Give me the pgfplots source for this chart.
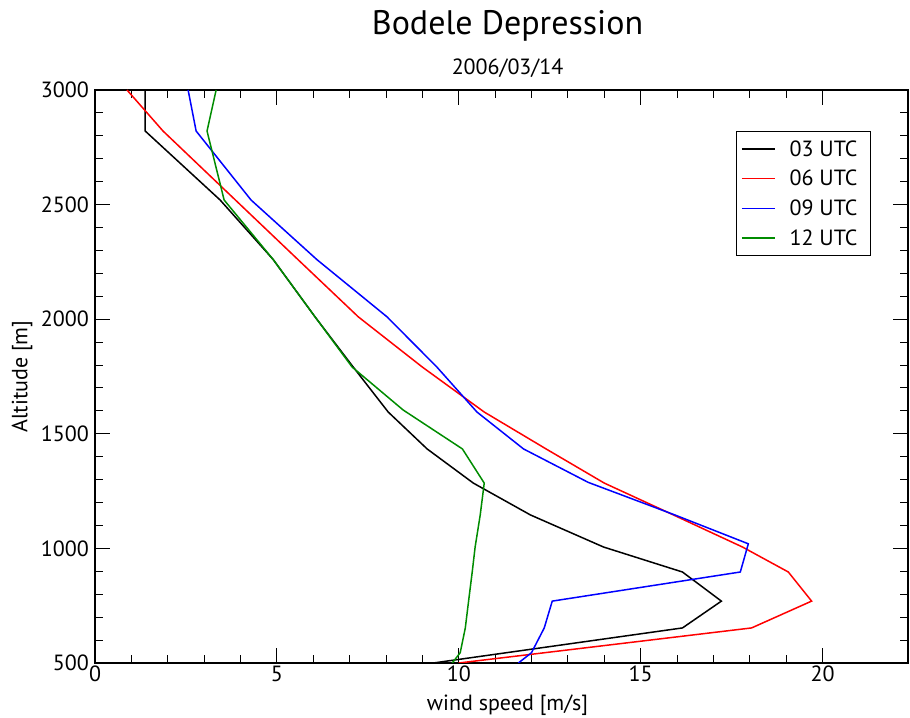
\documentclass[border=0pt]{standalone}
\usepackage{fontspec}
\setmainfont{PT Sans}
\usepackage{pgfplots}
\pgfplotsset{compat=1.18}
\definecolor{dgreen}{rgb}{0,0.55,0}
\newcommand{\lbl}{\fontsize{22bp}{26bp}\selectfont}
\begin{document}
\begin{tikzpicture}
\begin{axis}[name=ax, scale only axis, width=813bp, height=573bp,
  xmin=0, xmax=22.35, ymin=500, ymax=3000,
  xtick={0,5,10,15,20}, ytick={500,1000,1500,2000,2500,3000},
  minor x tick num=4, minor y tick num=4,
  tick align=inside, major tick length=15bp, minor tick length=8bp,
  tick style={black, line width=1bp},
  axis line style={line width=1.2bp},
  every tick label/.append style={font=\lbl},
  xticklabel style={inner sep=3bp},
  yticklabel style={inner sep=6bp},
  /pgf/number format/assume math mode=true,
  /pgf/number format/1000 sep={},
  scaled ticks=false,
  clip=true,
  legend cell align=left,
  legend style={at={(0.9545,0.9284)}, anchor=north east, draw=black, line width=1bp,
    font=\lbl, inner xsep=5bp, inner ysep=7bp, row sep=8.5bp,
    /tikz/every odd column/.append style={column sep=12bp}},
  legend image code/.code={\draw[#1, line width=1.5bp] (0bp,0bp) -- (33bp,0bp);},
]
\addplot[black, line width=1.5bp] coordinates {
(1.38,3000) (1.38,2821) (3.44,2520) (4.9,2260) (6.05,2010) (7.10,1791) (8.06,1595)
(9.13,1434) (10.4,1285) (11.97,1146) (13.98,1006) (16.15,897) (17.22,770) (16.15,653) (9.3,500)};
\addlegendentry{03 UTC\kern6bp}
\addplot[red, line width=1.5bp] coordinates {
(0.88,3000) (1.87,2821) (3.86,2520) (5.58,2260) (7.24,2010) (9.0,1791) (10.7,1595)
(12.4,1434) (14.0,1285) (15.9,1146) (17.8,1006) (19.06,897) (19.70,770) (18.05,653) (10.0,500)};
\addlegendentry{06 UTC\kern6bp}
\addplot[blue, line width=1.5bp] coordinates {
(2.56,3000) (2.78,2821) (4.29,2520) (6.1,2260) (8.03,2010) (9.4,1791) (10.5,1595)
(11.78,1434) (13.56,1288) (15.94,1146) (17.96,1020) (17.74,897) (12.57,770) (12.35,653) (12.0,545) (11.64,500)};
\addlegendentry{09 UTC\kern6bp}
\addplot[dgreen, line width=1.5bp] coordinates {
(3.33,3000) (3.08,2821) (3.55,2520) (4.9,2260) (6.05,2010) (7.07,1791) (8.47,1604)
(10.1,1434) (10.70,1285) (10.59,1146) (10.45,1006) (10.37,897) (10.27,770) (10.18,653) (10.04,545) (9.82,500)};
\addlegendentry{12 UTC\kern6bp}
\end{axis}
\node[font=\fontsize{34bp}{40bp}\selectfont, anchor=base] at ([xshift=6bp,yshift=55bp]ax.north) {Bodele Depression};
\node[font=\fontsize{22bp}{26bp}\selectfont, anchor=base] at ([xshift=6bp,yshift=15bp]ax.north) {2006/03/14};
\node[font=\lbl, anchor=base] at ([xshift=6bp,yshift=-47bp]ax.south) {wind speed [m/s]};
\node[font=\lbl, rotate=90, anchor=center] at ([xshift=-73bp]ax.west) {Altitude [m]};
\pgfresetboundingbox
\path ([xshift=-95bp,yshift=-55bp]ax.south west) rectangle ([xshift=2bp,yshift=90bp]ax.north east);
\end{tikzpicture}
\end{document}
